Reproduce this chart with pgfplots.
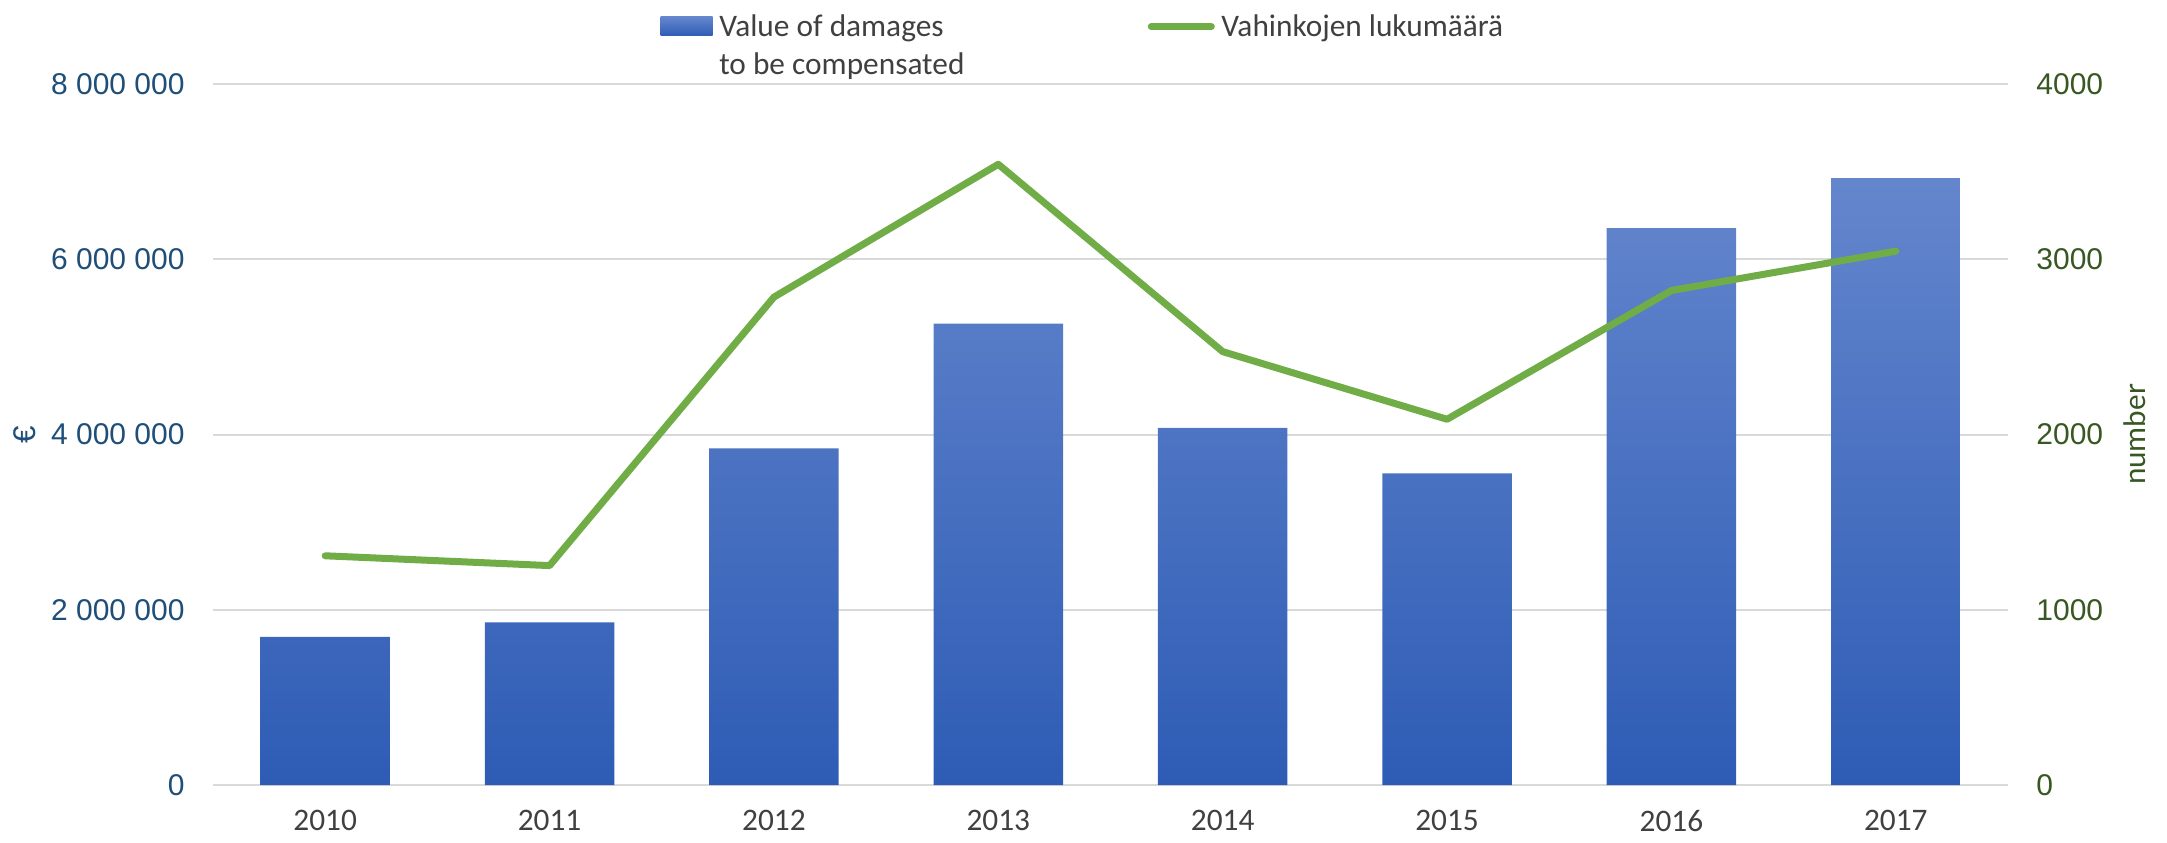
\documentclass[border=0pt]{standalone}
\usepackage{pgfplots}
\pgfplotsset{compat=1.18}
\usepackage{pgfplotstable}
\usepackage{fontspec}
\setmainfont{Carlito}
\newfontfamily\tickfont{Liberation Sans}
\definecolor{barTop}{HTML}{6486CD}
\definecolor{barMid}{HTML}{4473C6}
\definecolor{barBot}{HTML}{2E5CB5}
\definecolor{lineGreen}{HTML}{70AD47}
\definecolor{leftBlue}{HTML}{1F4E79}
\definecolor{rightGreen}{HTML}{385723}
\definecolor{txtGray}{HTML}{404040}
\definecolor{gridGray}{HTML}{D9D9D9}
\pgfplotstableread{
x val num
0 1690000 1308
1 1857000 1252
2 3842000 2784
3 5267000 3542
4 4076000 2473
5 3557000 2087
6 6356000 2822
7 6926000 3046
}\data
\begin{document}
\begin{tikzpicture}
\begin{axis}[
  at={(0,0)}, anchor=south west,
  scale only axis, width=538.5pt, height=210.3pt,
  xmin=-0.5, xmax=7.5, ymin=0, ymax=8000000,
  axis line style={draw=none},
  major tick length=0pt,
  ymajorgrids, grid style={color=gridGray, line width=0.6pt},
  xtick={0,...,7},
  xticklabels={2010,2011,2012,2013,2014,2015,2016,2017},
  ytick={0,2000000,4000000,6000000,8000000},
  yticklabels={0,2 000 000,4 000 000,6 000 000,8 000 000},
  scaled y ticks=false,
  yticklabel style={font=\tickfont\fontsize{9}{10}\selectfont, text=leftBlue, xshift=-5pt},
  xticklabel style={font=\fontsize{9.4}{11}\selectfont, text=txtGray, yshift=-4pt},
  ylabel={€},
  ylabel style={at={([xshift=-56.4pt]axis description cs:0,0.5)}, anchor=center, font=\tickfont\fontsize{9.4}{10}\selectfont, text=leftBlue},
]
\addplot[ybar, bar width=38.85pt, draw=none, top color=barTop, middle color=barMid, bottom color=barBot] table[x=x,y=val]{\data};
\end{axis}
\begin{axis}[
  at={(0,0)}, anchor=south west,
  scale only axis, width=538.5pt, height=210.3pt,
  xmin=-0.5, xmax=7.5, ymin=0, ymax=4000,
  axis line style={draw=none},
  major tick length=0pt,
  xtick=\empty,
  ytick={0,1000,2000,3000,4000},
  yticklabels={0,1000,2000,3000,4000},
  yticklabel pos=right,
  yticklabel style={font=\tickfont\fontsize{9}{10}\selectfont, text=rightGreen, xshift=5pt},
  ylabel={number},
  ylabel style={at={([xshift=38.1pt]axis description cs:1,0.5)}, anchor=center, font=\fontsize{9.4}{11}\selectfont, text=rightGreen},
  legend columns=2,
  legend style={draw=none, fill=none, inner sep=0pt, at={(axis description cs:0.249,1.116)}, anchor=north west,
    font=\fontsize{9.4}{11.4}\selectfont, text=txtGray,
    cells={anchor=base west, inner ysep=0pt, inner xsep=2pt},
    /tikz/every even column/.append style={column sep=53pt}},
]
\addlegendimage{draw=none, legend image code/.code={\shade[draw=none, top color=barTop, bottom color=barBot] (0pt,0.2pt) rectangle (15.6pt,5.9pt);}}
\addlegendentry{\begin{tabular}[t]{@{}l@{}}Value of damages\\to be compensated\end{tabular}}
\addplot[color=lineGreen, line width=2.1pt, line join=round, line cap=round,
  legend image code/.code={\draw[lineGreen, line width=2.1pt, line cap=round] (0pt,3pt) -- (18pt,3pt);}] table[x=x,y=num]{\data};
\addlegendentry{Vahinkojen lukumäärä}
\end{axis}
\pgfresetboundingbox
\path (-63.9pt,-17.1pt) rectangle (586.2pt,235.5pt);
\end{tikzpicture}
\end{document}
